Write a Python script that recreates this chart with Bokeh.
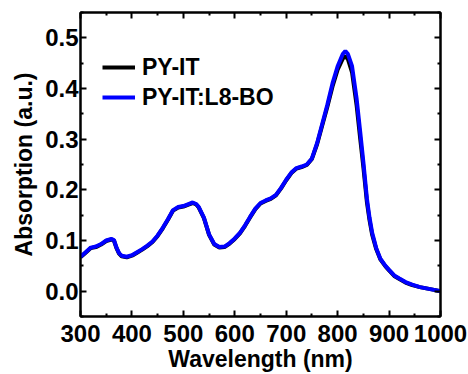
from bokeh.plotting import figure
from bokeh.models import LinearAxis, FixedTicker, Range1d, Legend, LegendItem, CustomJSTickFormatter
from bokeh.embed import file_html
from bokeh.resources import INLINE

wavelength = [300, 310, 320, 330, 340, 350, 360, 365, 370, 375, 380, 390, 400, 410, 420, 430, 440, 450,
              460, 470, 480, 490, 500, 510, 518, 525, 530, 540, 550, 560, 570, 580, 590, 600, 610, 620,
              630, 640, 650, 660, 670, 680, 690, 700, 710, 720, 730, 740, 750, 760, 770, 780, 790, 800,
              810, 815, 820, 828, 837, 844, 850, 857, 862, 867, 875, 883, 893, 900, 910, 920, 932, 945,
              960, 975, 990, 1000]
blend = [0.068, 0.077, 0.086, 0.088, 0.093, 0.100, 0.103, 0.101, 0.086, 0.075, 0.070, 0.068, 0.071, 0.077,
         0.083, 0.090, 0.098, 0.110, 0.125, 0.142, 0.160, 0.166, 0.168, 0.172, 0.175, 0.172, 0.166, 0.145,
         0.112, 0.093, 0.087, 0.088, 0.095, 0.104, 0.115, 0.130, 0.147, 0.163, 0.174, 0.179, 0.183, 0.190,
         0.204, 0.220, 0.234, 0.243, 0.246, 0.250, 0.262, 0.292, 0.330, 0.368, 0.410, 0.444, 0.468, 0.474,
         0.468, 0.444, 0.379, 0.313, 0.255, 0.182, 0.145, 0.116, 0.085, 0.064, 0.050, 0.042, 0.031, 0.025,
         0.018, 0.013, 0.008, 0.005, 0.002, 0.000]
neat = [0.067, 0.076, 0.085, 0.087, 0.092, 0.099, 0.102, 0.100, 0.085, 0.074, 0.069, 0.067, 0.070, 0.076,
        0.082, 0.089, 0.097, 0.109, 0.124, 0.141, 0.159, 0.165, 0.167, 0.171, 0.174, 0.171, 0.165, 0.144,
        0.111, 0.092, 0.086, 0.087, 0.094, 0.103, 0.114, 0.129, 0.146, 0.162, 0.173, 0.178, 0.182, 0.189,
        0.203, 0.219, 0.233, 0.242, 0.245, 0.249, 0.261, 0.290, 0.327, 0.364, 0.404, 0.437, 0.459, 0.464,
        0.458, 0.432, 0.366, 0.300, 0.245, 0.175, 0.140, 0.112, 0.083, 0.063, 0.049, 0.041, 0.030, 0.024,
        0.017, 0.012, 0.008, 0.005, 0.002, 0.000]
series_names = ["PY-IT", "PY-IT:L8-BO"]
x_ticks = [300, 400, 500, 600, 700, 800, 900, 1000]
x_minor = [350, 450, 550, 650, 750, 850, 950]
y_ticks = [0.0, 0.1, 0.2, 0.3, 0.4, 0.5]
y_minor = [-0.05, 0.05, 0.15, 0.25, 0.35, 0.45, 0.55]

FONT = "Liberation Sans"

p = figure(width=468, height=374, output_backend="svg", toolbar_location=None,
           x_range=Range1d(300, 1000), y_range=Range1d(-0.05, 0.55),
           min_border_left=80, min_border_right=28, min_border_top=12, min_border_bottom=57)
p.xgrid.visible = False
p.ygrid.visible = False
p.outline_line_color = "black"
p.outline_line_width = 2
p.background_fill_color = "white"
p.border_fill_color = "white"

r1 = p.line(wavelength, neat, line_color="black", line_width=4)
r2 = p.line(wavelength, blend, line_color="#0000ff", line_width=4)


def style_axis(ax, ticks, minor, labels=True):
    ax.ticker = FixedTicker(ticks=ticks, minor_ticks=minor)
    ax.major_tick_in = 6
    ax.major_tick_out = 0
    ax.minor_tick_in = 3
    ax.minor_tick_out = 0
    ax.axis_line_width = 2
    ax.major_tick_line_width = 2
    ax.minor_tick_line_width = 2
    ax.axis_line_color = "black"
    ax.major_tick_line_color = "black"
    ax.minor_tick_line_color = "black"
    if labels:
        ax.major_label_text_font = FONT
        ax.major_label_text_font_style = "bold"
        ax.major_label_text_font_size = "24px"
        ax.major_label_text_color = "black"
        ax.axis_label_text_font = FONT
        ax.axis_label_text_font_style = "bold"
        ax.axis_label_text_font_size = "23px"
        ax.axis_label_text_color = "black"
    else:
        ax.major_label_text_font_size = "0px"
        ax.major_label_text_alpha = 0


xa = p.xaxis[0]
style_axis(xa, x_ticks, x_minor)
xa.axis_label = "Wavelength (nm)"
xa.major_label_standoff = 8
xa.axis_label_standoff = 1

ya = p.yaxis[0]
style_axis(ya, y_ticks, y_minor)
ya.axis_label = "Absorption (a.u.)"
ya.formatter = CustomJSTickFormatter(code="return tick.toFixed(1);")
ya.major_label_standoff = 2
ya.axis_label_standoff = 5

top = LinearAxis()
style_axis(top, x_ticks, x_minor, labels=False)
p.add_layout(top, "above")
right = LinearAxis()
style_axis(right, y_ticks, y_minor, labels=False)
p.add_layout(right, "right")

legend = Legend(items=[LegendItem(label=series_names[0], renderers=[r1]),
                       LegendItem(label=series_names[1], renderers=[r2])],
                location=(22, 204))
legend.label_text_font = FONT
legend.label_text_font_style = "bold"
legend.label_text_font_size = "23px"
legend.label_text_color = "black"
legend.glyph_width = 33
legend.glyph_height = 30
legend.label_height = 30
legend.label_standoff = 7
legend.spacing = 0
legend.padding = 0
legend.margin = 0
legend.border_line_color = None
legend.background_fill_alpha = 0
p.add_layout(legend, "center")

open("out.html", "w").write(file_html(p, INLINE))
